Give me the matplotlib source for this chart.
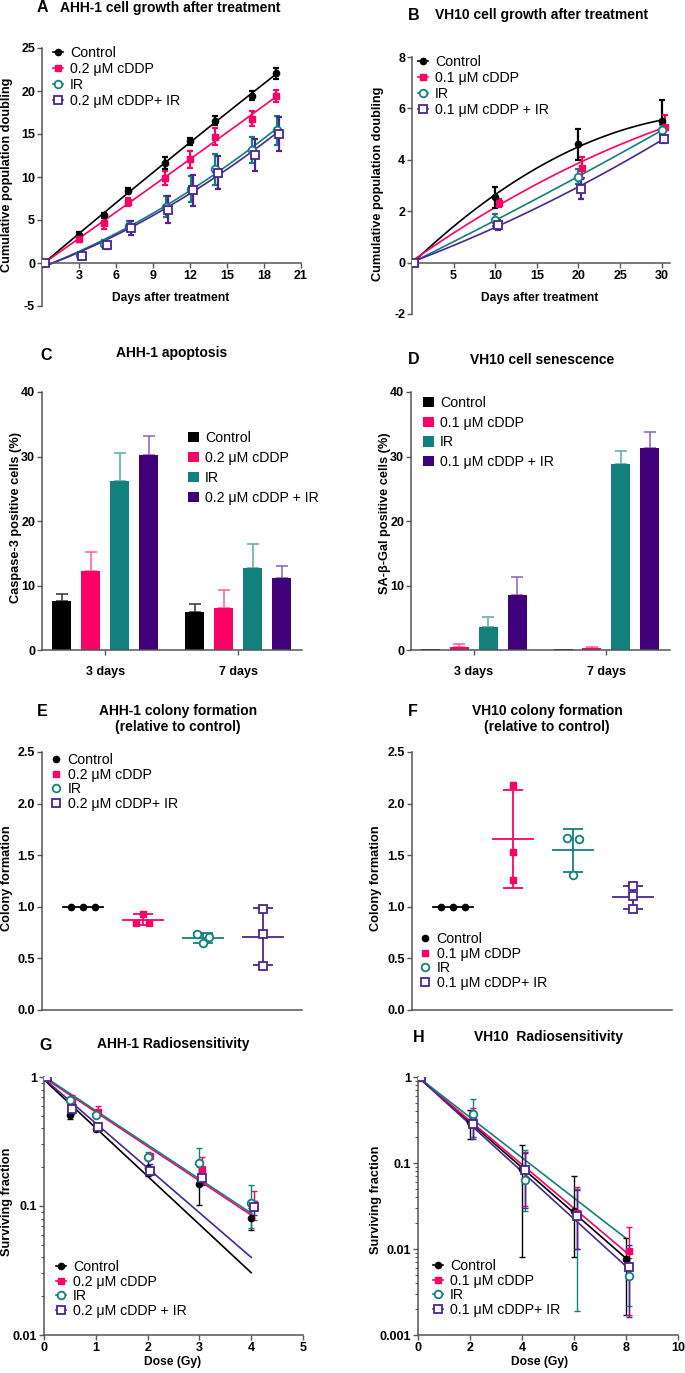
import numpy as np
import matplotlib
matplotlib.use('Agg')
import matplotlib.pyplot as plt
from matplotlib.lines import Line2D
from matplotlib.patches import Patch
from matplotlib.ticker import FuncFormatter, NullFormatter, LogLocator

W, H = 685, 1373
DPI = 100

plt.rcParams['font.family'] = ['Liberation Sans', 'DejaVu Sans']
plt.rcParams['font.weight'] = 'bold'
plt.rcParams['font.size'] = 8.5
plt.rcParams['axes.unicode_minus'] = False

# Colors
C_CTRL = '#000000'
C_CDDP = '#FF0066'
C_IR = '#12807C'
C_COMBO = '#40007A'
C_COMBO_LINE = '#4B2592'
C_AXIS = '#555555'
# lighter error-bar colours for the bar panels
E_CTRL = '#333333'
E_CDDP = '#FF5C95'
E_IR = '#5AAAA6'
E_COMBO = '#8A60B8'

# ---------------- Data ----------------
# A: AHH-1 growth
a_days = [0, 3, 5, 7, 10, 12, 14, 17, 19]
a_ctrl = [0, 3.2, 5.55, 8.4, 11.6, 14.15, 16.55, 19.45, 22.05]
a_ctrl_sd = [0.1, 0.4, 0.3, 0.3, 0.7, 0.4, 0.5, 0.5, 0.6]
a_cddp = [0, 2.75, 4.6, 7.1, 9.9, 12.05, 14.7, 16.8, 19.45]
a_cddp_sd = [0.1, 0.3, 0.7, 0.5, 0.8, 1.0, 1.0, 0.9, 0.7]
a_ir = [0, 0.9, 2.25, 4.3, 6.55, 8.65, 10.9, 13.15, 15.45]
a_ir_sd = [0.1, 0.3, 0.4, 0.6, 1.2, 1.5, 1.8, 1.5, 1.7]
a_combo = [0, 0.8, 2.05, 4.1, 6.2, 8.45, 10.5, 12.55, 15.0]
a_combo_sd = [0.1, 0.3, 0.4, 0.8, 1.6, 1.8, 1.9, 1.9, 2.0]

# B: VH10 growth
b_days = [0, 10, 20, 30]
b_ctrl = [0, 2.54, 4.61, 5.51]
b_ctrl_sd = [0.05, 0.4, 0.6, 0.8]
b_cddp = [0, 2.33, 3.69, 5.28]
b_cddp_sd = [0.05, 0.15, 0.4, 0.45]
b_ir = [0, 1.66, 3.34, 5.15]
b_ir_sd = [0.05, 0.25, 0.3, 0.2]
b_combo = [0, 1.45, 2.87, 4.79]
b_combo_sd = [0.05, 0.2, 0.4, 0.15]

# C: AHH-1 apoptosis
c_groups = ['3 days', '7 days']
c_ctrl = [7.6, 5.95]
c_ctrl_err = [1.15, 1.25]
c_cddp = [12.2, 6.45]
c_cddp_err = [3.0, 2.8]
c_ir = [26.25, 12.65]
c_ir_err = [4.35, 3.8]
c_combo = [30.25, 11.1]
c_combo_err = [2.95, 1.85]

# D: VH10 senescence
d_groups = ['3 days', '7 days']
d_ctrl = [0.1, 0.1]
d_ctrl_err = [0.0, 0.0]
d_cddp = [0.4, 0.25]
d_cddp_err = [0.5, 0.25]
d_ir = [3.6, 28.9]
d_ir_err = [1.45, 1.9]
d_combo = [8.5, 31.3]
d_combo_err = [2.8, 2.5]

# E: AHH-1 colony formation (3 replicates)
e_ctrl = [1.0, 1.0, 1.0]
e_cddp = [0.84, 0.935, 0.845]
e_ir = [0.735, 0.645, 0.71]
e_combo = [0.974, 0.732, 0.426]

# F: VH10 colony formation
f_ctrl = [1.0, 1.0, 1.0]
f_cddp = [2.18, 1.53, 1.26]
f_ir = [1.67, 1.31, 1.66]
f_combo = [1.2, 1.1, 0.974]

# G: AHH-1 radiosensitivity
g_dose = [0, 0.5, 1, 2, 3, 4]
g_ctrl = [1.0, 0.51, 0.395, 0.197, 0.149, 0.0805]
g_ctrl_lo = [1.0, 0.476, 0.38, 0.171, 0.101, 0.065]
g_ctrl_hi = [1.0, 0.55, 0.41, 0.226, 0.205, 0.096]
g_cddp = [1.0, 0.64, 0.536, 0.243, 0.193, 0.103]
g_cddp_lo = [1.0, 0.58, 0.5, 0.235, 0.15, 0.078]
g_cddp_hi = [1.0, 0.72, 0.6, 0.25, 0.24, 0.13]
g_ir = [1.0, 0.66, 0.51, 0.24, 0.216, 0.106]
g_ir_lo = [1.0, 0.62, 0.5, 0.23, 0.16, 0.068]
g_ir_hi = [1.0, 0.7, 0.53, 0.26, 0.28, 0.145]
g_combo = [1.0, 0.56, 0.41, 0.187, 0.166, 0.0986]
g_combo_lo = [1.0, 0.52, 0.4, 0.175, 0.145, 0.085]
g_combo_hi = [1.0, 0.6, 0.43, 0.21, 0.19, 0.11]
g_fit_dose = [0, 4]
g_fit_ctrl = [0.953, 0.0304]
g_fit_cddp = [0.988, 0.085]
g_fit_ir = [1.01, 0.088]
g_fit_combo = [0.97, 0.04]

# H: VH10 radiosensitivity
h_dose = [0, 2, 4, 6, 8]
h_ctrl = [1.0, 0.297, 0.085, 0.0273, 0.0077]
h_ctrl_lo = [1.0, 0.19, 0.008, 0.008, 0.0017]
h_ctrl_hi = [1.0, 0.41, 0.16, 0.07, 0.0135]
h_cddp = [1.0, 0.32, 0.085, 0.026, 0.0095]
h_cddp_lo = [1.0, 0.2, 0.032, 0.01, 0.0017]
h_cddp_hi = [1.0, 0.44, 0.135, 0.053, 0.018]
h_ir = [1.0, 0.374, 0.064, 0.0239, 0.0048]
h_ir_lo = [1.0, 0.2, 0.028, 0.0019, 0.0022]
h_ir_hi = [1.0, 0.55, 0.14, 0.05, 0.0078]
h_combo = [1.0, 0.286, 0.082, 0.024, 0.00625]
h_combo_lo = [1.0, 0.19, 0.03, 0.01, 0.0016]
h_combo_hi = [1.0, 0.4, 0.13, 0.048, 0.011]
h_fit_dose = [0, 8]
h_fit_ctrl = [1.0, 0.0078]
h_fit_cddp = [1.0, 0.0092]
h_fit_ir = [1.0, 0.0133]
h_fit_combo = [1.0, 0.0063]

LAB_02 = ['Control', '0.2 μM cDDP', 'IR', '0.2 μM cDDP+ IR']
LAB_02s = ['Control', '0.2 μM cDDP', 'IR', '0.2 μM cDDP + IR']
LAB_01 = ['Control', '0.1 μM cDDP', 'IR', '0.1 μM cDDP + IR']
LAB_01b = ['Control', '0.1 μM cDDP', 'IR', '0.1 μM cDDP+ IR']

fig = plt.figure(figsize=(W / DPI, H / DPI), dpi=DPI)
fig.patch.set_facecolor('white')


def add_ax(l, t, r, b):
    return fig.add_axes([l / W, 1 - b / H, (r - l) / W, (b - t) / H])


def ftext(x, y, s, **kw):
    kw.setdefault('ha', 'center')
    kw.setdefault('va', 'center')
    return fig.text(x / W, 1 - y / H, s, **kw)


def style_ax(ax):
    for side in ['top', 'right']:
        ax.spines[side].set_visible(False)
    for side in ['left', 'bottom']:
        ax.spines[side].set_color(C_AXIS)
        ax.spines[side].set_linewidth(1.1)
    ax.tick_params(direction='out', length=3.5, width=1.0, color=C_AXIS,
                   labelsize=9, pad=1.5)
    ax.tick_params(which='minor', direction='out', length=2, width=0.8, color=C_AXIS)
    ax.set_facecolor('none')


def place_legend(ax, handles, labels, x, y, spacing, hl, htp, hh=0.7):
    return ax.legend(handles, labels, loc='upper left',
                     bbox_to_anchor=(x / W, 1 - y / H), bbox_transform=fig.transFigure,
                     frameon=False, borderpad=0, borderaxespad=0,
                     labelspacing=spacing, handlelength=hl, handletextpad=htp,
                     handleheight=hh, prop={'size': 10.2, 'weight': 'normal'})


# marker styles: control, cDDP, IR, combo
STYLES = [
    dict(color=C_CTRL, marker='o', mfc=C_CTRL, ms=4.5),
    dict(color=C_CDDP, marker='s', mfc=C_CDDP, ms=4.5),
    dict(color=C_IR, marker='o', mfc='white', ms=5.5, mew=1.3),
    dict(color=C_COMBO_LINE, marker='s', mfc='white', ms=5.5, mew=1.3),
]


def line_handles():
    return [Line2D([], [], lw=1.2, **s) for s in STYLES]


def marker_handles():
    return [Line2D([], [], lw=0, **s) for s in STYLES]


# ---------------- Panel A ----------------
ax = add_ax(42, 48, 301, 306)
style_ax(ax)
series = [(a_ctrl, a_ctrl_sd), (a_cddp, a_cddp_sd), (a_ir, a_ir_sd), (a_combo, a_combo_sd)]
dodge = [0, 0, 0.05, 0.25]
xs = np.linspace(0.3, 19, 100)
for (vals, sd), st, dx in zip(series, STYLES, dodge):
    coef = np.polyfit(a_days, vals, 2)
    ax.plot(xs, np.polyval(coef, xs), color=st['color'], lw=1.2, zorder=2)
    ax.errorbar(np.array(a_days) + dx, vals, yerr=sd, fmt='none', ecolor=st['color'],
                elinewidth=1.6, capsize=2, capthick=1.6, zorder=3)
    ax.plot(np.array(a_days) + dx, vals, lw=0, zorder=4, **st)
ax.set_xlim(0, 21)
ax.set_ylim(-5, 25)
ax.spines['bottom'].set_position(('data', 0))
ax.set_xticks([3, 6, 9, 12, 15, 18, 21])
ax.set_yticks([-5, 0, 5, 10, 15, 20, 25])
place_legend(ax, line_handles(), LAB_02, 53, 46, 0.15, 0.7, 0.5)
ftext(171, 298, 'Days after treatment', fontsize=8.7)
ftext(7, 175, 'Cumulative population doubling', fontsize=9.2, rotation=90)
ftext(37, 8, 'A', fontsize=11.5, ha='left')
ftext(60, 8, 'AHH-1 cell growth after treatment', fontsize=10, ha='left')

# ---------------- Panel B ----------------
ax = add_ax(412, 57, 670, 314)
style_ax(ax)
series = [(b_ctrl, b_ctrl_sd), (b_cddp, b_cddp_sd), (b_ir, b_ir_sd), (b_combo, b_combo_sd)]
dodge = [0, 0.4, 0, 0.3]
xs = np.linspace(0, 30, 100)
for (vals, sd), st, dx in zip(series, STYLES, dodge):
    coef = np.polyfit(b_days, vals, 2)
    ax.plot(xs, np.polyval(coef, xs), color=st['color'], lw=1.2, zorder=2)
    ax.errorbar(np.array(b_days) + dx, vals, yerr=sd, fmt='none', ecolor=st['color'],
                elinewidth=1.6, capsize=2, capthick=1.6, zorder=3)
    ax.plot(np.array(b_days) + dx, vals, lw=0, zorder=4, **st)
ax.set_xlim(0, 31)
ax.set_ylim(-2, 8)
ax.spines['bottom'].set_position(('data', 0))
ax.set_xticks([5, 10, 15, 20, 25, 30])
ax.set_yticks([-2, 0, 2, 4, 6, 8])
place_legend(ax, line_handles(), LAB_01, 418, 55, 0.15, 0.7, 0.5)
ftext(540, 298, 'Days after treatment', fontsize=8.7)
ftext(378, 184, 'Cumulative population doubling', fontsize=9.2, rotation=90)
ftext(408, 15, 'B', fontsize=11.5, ha='left')
ftext(435, 15, 'VH10 cell growth after treatment', fontsize=10, ha='left')

# ---------------- Panels C, D (bars) ----------------
BAR_W = 0.143
BAR_STEP = 0.218
bar_cols = [C_CTRL, C_CDDP, C_IR, C_COMBO]
err_cols = [E_CTRL, E_CDDP, E_IR, E_COMBO]


def bar_panel(ax, groups, means, errs):
    style_ax(ax)
    x = np.arange(len(groups))
    for i, (m, e) in enumerate(zip(means, errs)):
        xi = x + (i - 1.5) * BAR_STEP
        ax.bar(xi, m, width=BAR_W, color=bar_cols[i], zorder=2)
        e = np.array(e)
        keep = e > 0
        ax.errorbar(xi[keep], np.array(m)[keep], yerr=[np.zeros(keep.sum()), e[keep]],
                    fmt='none', ecolor=err_cols[i], elinewidth=1.1, capsize=4.3,
                    capthick=1.1, zorder=1)
    ax.set_xlim(-0.474, 1.48)
    ax.set_ylim(0, 40)
    ax.set_yticks([0, 10, 20, 30, 40])
    ax.set_xticks(x)
    ax.set_xticklabels(groups)
    ax.tick_params(axis='x', pad=8)


patches = [Patch(facecolor=c) for c in bar_cols]

ax = add_ax(42, 392, 302, 650)
bar_panel(ax, c_groups, [c_ctrl, c_cddp, c_ir, c_combo],
          [c_ctrl_err, c_cddp_err, c_ir_err, c_combo_err])
place_legend(ax, patches, LAB_02s, 188, 431, 0.42, 0.75, 0.45, hh=0.75)
ftext(16, 517, 'Caspase-3 positive cells (%)', fontsize=9.2, rotation=90)
ftext(40, 355, 'C', fontsize=11.5, ha='left')
ftext(172, 353, 'AHH-1 apoptosis', fontsize=10)

ax = add_ax(411, 392, 670, 650)
bar_panel(ax, d_groups, [d_ctrl, d_cddp, d_ir, d_combo],
          [d_ctrl_err, d_cddp_err, d_ir_err, d_combo_err])
place_legend(ax, patches, LAB_01, 423, 396, 0.40, 0.75, 0.45, hh=0.75)
ftext(385, 513, 'SA-β-Gal positive cells (%)', fontsize=9.2, rotation=90)
ftext(408, 360, 'D', fontsize=11.5, ha='left')
ftext(542, 360, 'VH10 cell senescence', fontsize=10)

# ---------------- Panels E, F (scatter with mean +- SD) ----------------
HALF = 0.33


def dot_panel(ax, reps, jitters):
    style_ax(ax)
    for i, (vals, jit, st) in enumerate(zip(reps, jitters, STYLES)):
        vals = np.array(vals)
        m = vals.mean()
        sd = vals.std(ddof=1)
        ax.plot([i - HALF, i + HALF], [m, m], color=st['color'], lw=1.3, zorder=2)
        if sd > 0:
            ax.errorbar([i], [m], yerr=sd, fmt='none', ecolor=st['color'],
                        elinewidth=1.3, capsize=7, capthick=1.3, zorder=2)
        ax.plot(i + np.array(jit), vals, lw=0, zorder=3, **st)
    ax.set_xlim(-0.68, 3.65)
    ax.set_ylim(0, 2.5)
    ax.set_yticks([0, 0.5, 1.0, 1.5, 2.0, 2.5])
    ax.yaxis.set_major_formatter(FuncFormatter(lambda v, p: '%.1f' % v))
    ax.set_xticks([])


ax = add_ax(42, 752, 302, 1010)
dot_panel(ax, [e_ctrl, e_cddp, e_ir, e_combo],
          [[-0.2, 0, 0.2], [-0.11, 0, 0.1], [-0.1, 0, 0.1], [0, 0, 0]])
place_legend(ax, marker_handles(), LAB_02, 52, 753, 0.05, 0.6, 0.5)
ftext(7, 878, 'Colony formation', fontsize=9.2, rotation=90)
ftext(37, 712, 'E', fontsize=11.5, ha='left')
ftext(178, 719, 'AHH-1 colony formation\n(relative to control)', fontsize=10,
      linespacing=1.1)

ax = add_ax(412, 752, 672, 1010)
dot_panel(ax, [f_ctrl, f_cddp, f_ir, f_combo],
          [[-0.2, 0, 0.2], [0, 0, 0], [-0.095, 0, 0.1], [0, 0, 0]])
place_legend(ax, marker_handles(), LAB_01b, 421, 932, 0.05, 0.6, 0.5)
ftext(376, 878, 'Colony formation', fontsize=9.2, rotation=90)
ftext(408, 712, 'F', fontsize=11.5, ha='left')
ftext(547, 719, 'VH10 colony formation\n(relative to control)', fontsize=10,
      linespacing=1.1)


# ---------------- Panels G, H (survival, log scale) ----------------
def surv_panel(ax, dose, series, fits, fit_dose, dodge):
    style_ax(ax)
    ax.set_yscale('log')
    for (vals, lo, hi), fit, st, dx in zip(series, fits, STYLES, dodge):
        vals = np.array(vals)
        ax.plot(fit_dose, fit, color=st['color'], lw=1.2, zorder=2)
        yerr = [vals - np.array(lo), np.array(hi) - vals]
        ax.errorbar(np.array(dose) + dx, vals, yerr=yerr, fmt='none',
                    ecolor=st['color'], elinewidth=1.0, capsize=2.5, capthick=1.0,
                    zorder=3)
        ax.plot(np.array(dose) + dx, vals, lw=0, zorder=4, **st)
    ax.yaxis.set_major_formatter(FuncFormatter(lambda v, p: '%g' % v))
    ax.yaxis.set_minor_locator(LogLocator(base=10, subs=np.arange(2, 10)))
    ax.yaxis.set_minor_formatter(NullFormatter())


ax = add_ax(44, 1077, 303, 1335)
surv_panel(ax, g_dose,
           [(g_ctrl, g_ctrl_lo, g_ctrl_hi), (g_cddp, g_cddp_lo, g_cddp_hi),
            (g_ir, g_ir_lo, g_ir_hi), (g_combo, g_combo_lo, g_combo_hi)],
           [g_fit_ctrl, g_fit_cddp, g_fit_ir, g_fit_combo], g_fit_dose,
           [0, 0.05, 0, 0.05])
ax.set_xlim(0, 5)
ax.set_ylim(0.01, 1)
ax.set_xticks([0, 1, 2, 3, 4, 5])
place_legend(ax, line_handles(), LAB_02s, 56, 1260, 0.05, 0.7, 0.5)
ftext(173, 1362, 'Dose (Gy)', fontsize=8.7)
ftext(7, 1202, 'Surviving fraction', fontsize=9.2, rotation=90)
ftext(39, 1045, 'G', fontsize=11.5, ha='left')
ftext(173, 1044, 'AHH-1 Radiosensitivity', fontsize=10)

ax = add_ax(418, 1077, 678, 1335)
surv_panel(ax, h_dose,
           [(h_ctrl, h_ctrl_lo, h_ctrl_hi), (h_cddp, h_cddp_lo, h_cddp_hi),
            (h_ir, h_ir_lo, h_ir_hi), (h_combo, h_combo_lo, h_combo_hi)],
           [h_fit_ctrl, h_fit_cddp, h_fit_ir, h_fit_combo], h_fit_dose,
           [0, 0.1, 0.1, 0.1])
ax.set_xlim(0, 10)
ax.set_ylim(0.001, 1)
ax.set_xticks([0, 2, 4, 6, 8, 10])
place_legend(ax, line_handles(), LAB_01b, 433, 1259, 0.05, 0.7, 0.5)
ftext(540, 1362, 'Dose (Gy)', fontsize=8.7)
ftext(376, 1200, 'Surviving fraction', fontsize=9.2, rotation=90)
ftext(413, 1037, 'H', fontsize=11.5, ha='left')
ftext(548, 1037, 'VH10  Radiosensitivity', fontsize=10)

fig.savefig('out.png', dpi=DPI, facecolor='white')
